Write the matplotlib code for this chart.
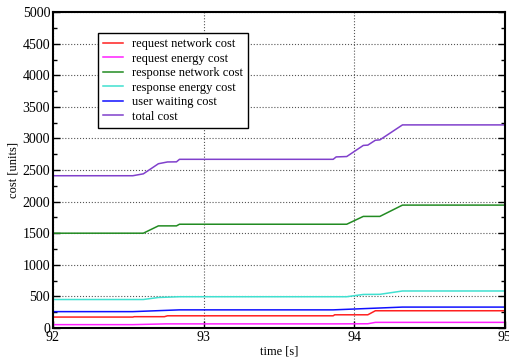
import numpy as np
import matplotlib
matplotlib.use("Agg")
import matplotlib.pyplot as plt
from matplotlib.ticker import MultipleLocator

plt.rcParams['font.family'] = ['Liberation Serif', 'DejaVu Serif']

# breakpoints (time [s], cost [units])
t_req_net = [92.0, 92.53, 92.54, 92.74, 92.76, 93.86, 93.87, 94.09, 94.14, 95.0]
req_net   = [172, 172, 178, 178, 192, 192, 208, 208, 272, 272]

t_req_en = [92.0, 92.53, 92.75, 93.86, 94.09, 94.14, 95.0]
req_en   = [52, 52, 64, 64, 66, 88, 88]

t_resp_net = [92.0, 92.6, 92.70, 92.82, 92.84, 93.95, 94.06, 94.17, 94.32, 95.0]
resp_net   = [1500, 1500, 1616, 1616, 1642, 1642, 1766, 1766, 1945, 1945]

t_resp_en = [92.0, 92.6, 92.70, 92.84, 93.95, 94.06, 94.17, 94.32, 95.0]
resp_en   = [450, 450, 482, 494, 494, 530, 532, 585, 585]

t_wait = [92.0, 92.53, 92.84, 93.86, 94.32, 95.0]
wait   = [258, 258, 286, 286, 330, 330]

t_total = [92.0, 92.53, 92.6, 92.70, 92.76, 92.82, 92.84, 93.86, 93.88, 93.95,
           94.06, 94.09, 94.14, 94.17, 94.32, 95.0]
total   = [2410, 2410, 2440, 2600, 2628, 2630, 2670, 2670, 2708, 2714,
           2890, 2895, 2972, 2978, 3215, 3215]

labels = ['request network cost', 'request energy cost', 'response network cost',
          'response energy cost', 'user waiting cost', 'total cost']
colors = ['#ff2020', '#ff20ff', '#228b22', '#40e0d0', '#1010ff', '#8040cc']

fig = plt.figure(figsize=(5.09, 3.58), dpi=100)
ax = fig.add_axes([0.104, 0.084, 0.888, 0.882])

series = [(t_req_net, req_net), (t_req_en, req_en), (t_resp_net, resp_net),
          (t_resp_en, resp_en), (t_wait, wait), (t_total, total)]
for (tt, vv), lab, c in zip(series, labels, colors):
    ax.plot(tt, vv, color=c, lw=1.1, label=lab)

ax.set_xlim(92, 95)
ax.set_ylim(0, 5000)
ax.set_xticks([92, 93, 94, 95])
ax.yaxis.set_major_locator(MultipleLocator(500))
ax.yaxis.set_minor_locator(MultipleLocator(250))
ax.tick_params(which='both', direction='in', right=True, top=False, labelsize=10)
ax.tick_params(which='major', length=5, width=1, pad=2)
ax.tick_params(which='minor', length=3, width=1)
ax.grid(True, linestyle=':', color='#555555', lw=0.8)
for s in ax.spines.values():
    s.set_linewidth(1.5)

ax.set_xlabel('time [s]', fontsize=9, labelpad=1)
ax.set_ylabel('cost [units]', fontsize=9, labelpad=2)

leg = ax.legend(loc='upper left', bbox_to_anchor=(0.1, 0.934), borderaxespad=0,
                fontsize=9, fancybox=False, framealpha=1, edgecolor='black',
                handlelength=1.6, handletextpad=0.7, labelspacing=0.2,
                borderpad=0.4)
leg.get_frame().set_linewidth(1.0)

fig.savefig('out.png', dpi=100)
